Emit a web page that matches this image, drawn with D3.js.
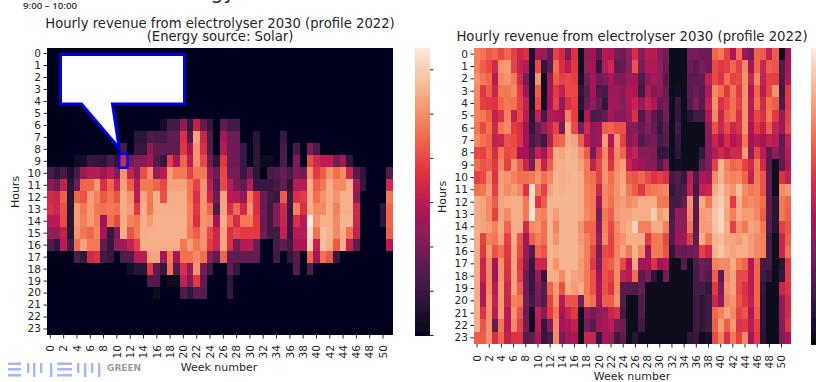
<!DOCTYPE html>
<html>
<head>
<meta charset="UTF-8">
<title>Hourly revenue from electrolyser</title>
<script src="https://d3js.org/d3.v7.min.js"></script>
<style>
  html, body { margin: 0; padding: 0; background: #fff; overflow: hidden; }
  text { font-family: "DejaVu Sans", sans-serif; fill: #262626; }
  .domain { display: none; }
  .tick line { stroke: #262626; }
</style>
</head>
<body>
<svg id="chart" width="816" height="382"></svg>
<script>
// revenue per hour (rows) and week (columns), relative to the colorbar (0-100)
var weeks = [0,1,2,3,4,5,6,7,8,9,10,11,12,13,14,15,16,17,18,19,20,21,22,23,24,25,26,27,28,29,30,31,32,33,34,35,36,37,38,39,40,41,42,43,44,45,46,47,48,49,50,51];
var hours = [0,1,2,3,4,5,6,7,8,9,10,11,12,13,14,15,16,17,18,19,20,21,22,23];
var weekTicks = [0,2,4,6,8,10,12,14,16,18,20,22,24,26,28,30,32,34,36,38,40,42,44,46,48,50];
var colorbarTicks = [0,15.4,30.8,46.2,61.6,77,92.4];

var solar = [
[0,0,0,0,0,0,0,0,0,0,0,0,0,0,0,0,0,0,0,0,0,0,0,0,0,0,0,0,0,0,0,0,0,0,0,0,0,0,0,0,0,0,0,0,0,0,0,0,0,0,0,0],
[0,0,0,0,0,0,0,0,0,0,0,0,0,0,0,0,0,0,0,0,0,0,0,0,0,0,0,0,0,0,0,0,0,0,0,0,0,0,0,0,0,0,0,0,0,0,0,0,0,0,0,0],
[0,0,0,0,0,0,0,0,0,0,0,0,0,0,0,0,0,0,0,0,0,0,0,0,0,0,0,0,0,0,0,0,0,0,0,0,0,0,0,0,0,0,0,0,0,0,0,0,0,0,0,0],
[0,0,0,0,0,0,0,0,0,0,0,0,0,0,0,0,0,0,0,0,0,0,0,0,0,0,0,0,0,0,0,0,0,0,0,0,0,0,0,0,0,0,0,0,0,0,0,0,0,0,0,0],
[0,0,0,0,0,0,0,0,0,0,0,0,0,0,0,0,0,0,0,0,0,0,0,0,0,0,0,0,0,0,0,0,0,0,0,0,0,0,0,0,0,0,0,0,0,0,0,0,0,0,0,0],
[0,0,0,0,0,0,0,0,0,0,0,0,0,0,0,0,0,0,0,0,0,0,0,0,0,0,0,0,0,0,0,0,0,0,0,0,0,0,0,0,0,0,0,0,0,0,0,0,0,0,0,0],
[0,0,0,0,0,0,0,0,0,0,0,0,0,0,0,0,0,6,18,18,36,14,48,25,15,0,25,18,18,0,0,0,0,0,0,0,0,0,0,0,0,0,0,0,0,0,0,0,0,0,0,0],
[0,0,0,0,0,0,0,0,0,0,0,0,0,12,12,20,18,18,25,25,55,22,82,50,20,0,42,28,28,0,0,10,0,0,0,15,0,0,0,0,0,0,0,0,0,0,0,0,0,0,0,0],
[0,0,0,0,0,0,0,0,0,0,0,18,0,15,15,35,25,25,25,25,58,40,78,55,22,0,45,28,28,15,0,12,0,0,0,18,0,18,0,30,20,0,0,0,0,0,0,0,0,0,0,0],
[0,0,0,0,3,5,15,12,12,20,12,52,28,33,33,42,22,15,60,42,68,47,78,62,28,12,58,28,28,15,0,12,3,3,0,20,0,32,0,63,52,47,47,30,42,12,0,0,0,0,0,0],
[18,12,18,8,18,38,46,46,40,47,32,78,48,35,63,76,38,46,80,72,72,60,72,72,38,28,62,30,30,15,28,12,0,18,20,26,18,32,28,78,58,66,78,70,76,50,22,12,0,0,0,20],
[35,28,48,10,28,68,68,80,55,68,50,82,66,45,72,72,68,62,82,82,82,72,60,78,46,22,62,45,30,25,45,15,15,15,17,25,12,45,45,84,66,72,84,76,76,84,42,14,0,0,0,52],
[52,50,66,10,68,64,80,74,65,70,64,84,78,46,82,72,84,63,84,84,84,72,55,78,50,28,82,47,46,35,72,55,28,18,15,66,16,55,58,84,70,78,84,78,85,85,35,0,0,0,0,72],
[55,50,63,10,80,72,80,72,70,72,70,84,80,58,84,72,84,84,84,84,84,74,58,78,68,20,82,55,68,52,78,55,28,16,33,50,15,74,55,85,76,76,84,74,85,85,52,0,0,0,12,68],
[46,46,62,10,80,74,80,74,40,70,62,84,74,72,84,80,85,85,85,85,85,74,55,78,76,40,84,68,52,72,72,58,28,16,33,50,15,55,45,100,78,85,85,76,86,86,50,0,0,0,12,68],
[36,36,48,10,78,72,68,76,42,14,32,84,64,72,84,85,85,85,85,85,85,72,66,78,62,50,82,55,60,58,58,58,28,16,16,48,15,45,45,96,70,88,86,76,85,70,48,0,0,0,0,66],
[22,14,46,16,70,82,72,72,25,14,38,38,48,60,84,84,84,84,84,84,72,80,72,78,58,50,82,55,30,45,45,28,0,0,18,25,16,42,42,92,48,88,84,65,84,48,25,0,0,0,0,45],
[0,0,0,0,20,14,52,56,16,14,0,20,20,45,45,82,82,40,72,40,70,70,76,70,35,25,68,25,25,25,25,25,0,0,16,0,12,22,0,68,40,70,64,14,0,0,0,0,0,0,0,0],
[0,0,0,0,0,0,0,0,0,0,0,0,6,10,10,58,24,14,70,22,55,38,78,30,16,0,0,25,14,0,0,0,0,0,0,0,0,22,0,22,0,0,0,0,0,0,0,0,0,0,0,0],
[0,0,0,0,0,0,0,0,0,0,0,0,0,0,0,22,22,0,2,2,48,32,58,25,0,0,0,12,0,0,0,0,0,0,0,0,0,0,0,0,0,0,0,0,0,0,0,0,0,0,0,0],
[0,0,0,0,0,0,0,0,0,0,0,0,0,0,0,0,4,0,0,0,20,12,24,22,0,0,0,14,0,0,0,0,0,0,0,0,0,0,0,0,0,0,0,0,0,0,0,0,0,0,0,0],
[0,0,0,0,0,0,0,0,0,0,0,0,0,0,0,0,0,0,0,0,0,0,0,0,0,0,0,0,0,0,0,0,0,0,0,0,0,0,0,0,0,0,0,0,0,0,0,0,0,0,0,0],
[0,0,0,0,0,0,0,0,0,0,0,0,0,0,0,0,0,0,0,0,0,0,0,0,0,0,0,0,0,0,0,0,0,0,0,0,0,0,0,0,0,0,0,0,0,0,0,0,0,0,0,0],
[0,0,0,0,0,0,0,0,0,0,0,0,0,0,0,0,0,0,0,0,0,0,0,0,0,0,0,0,0,0,0,0,0,0,0,0,0,0,0,0,0,0,0,0,0,0,0,0,0,0,0,0]
];

var profile = [
[74,70,65,68,62,68,60,50,55,8,42,38,25,60,52,32,56,2,36,40,22,46,44,30,28,36,55,34,46,46,34,28,2,2,2,30,30,28,28,68,72,60,44,70,40,30,68,66,48,66,4,40],
[74,66,62,52,78,80,60,48,45,8,62,14,25,70,55,47,58,3,38,40,14,46,52,25,26,36,64,30,44,44,36,26,2,2,2,28,24,30,28,62,58,60,68,60,76,42,68,50,66,64,20,42],
[78,72,68,45,76,78,72,52,30,8,78,4,38,66,60,62,60,8,30,40,28,32,42,32,32,38,42,20,34,42,36,22,2,2,2,24,24,26,48,62,56,70,60,62,78,50,76,48,60,60,20,44],
[76,58,66,50,72,72,76,58,40,8,66,3,42,58,48,62,62,12,24,42,20,18,40,38,34,44,44,16,44,32,36,26,3,6,3,24,28,24,44,76,70,58,72,58,78,44,68,46,62,78,16,58],
[74,60,58,56,68,72,70,60,48,8,62,6,40,60,36,56,60,10,28,36,26,14,42,38,34,44,50,36,48,44,26,30,3,14,3,22,32,22,48,78,56,62,70,60,78,46,70,52,70,66,20,58],
[74,72,66,48,56,74,48,62,46,10,48,18,46,44,40,74,60,4,44,20,22,26,42,34,34,42,56,20,36,24,16,30,3,14,4,10,16,16,44,76,50,66,70,54,78,46,62,56,72,58,36,60],
[72,62,70,52,72,76,58,54,40,14,28,38,48,60,30,84,62,30,52,36,40,66,68,64,64,34,34,26,34,26,14,24,4,16,4,2,2,2,36,64,50,62,50,56,78,42,58,48,66,48,40,62],
[76,70,68,48,50,64,62,56,42,18,26,16,46,66,68,84,82,66,46,36,42,80,44,78,60,34,40,22,28,30,18,22,4,14,4,2,2,2,34,50,40,54,44,48,72,40,46,42,48,46,24,48],
[62,60,68,54,72,62,64,42,40,26,48,40,60,84,82,86,85,78,66,30,56,76,52,76,68,46,48,34,34,32,14,14,4,12,2,2,2,14,34,46,52,46,52,52,80,36,62,46,24,36,26,46],
[70,64,66,58,76,60,78,66,50,30,72,48,66,84,85,86,86,82,72,48,62,78,56,76,80,48,42,40,34,34,20,34,4,6,4,2,4,24,32,60,86,74,68,70,60,52,72,52,22,2,24,44],
[60,62,76,56,80,78,74,70,70,72,78,70,76,86,84,85,86,84,72,70,60,78,70,78,82,66,64,68,62,56,60,56,18,22,14,46,20,44,40,76,86,76,74,76,68,48,72,64,24,2,56,48],
[70,72,80,60,82,76,80,76,56,96,70,60,82,86,85,86,86,84,74,72,50,76,72,78,84,72,66,58,70,72,74,76,14,18,20,48,16,48,50,84,90,82,78,88,76,72,74,64,24,2,76,80],
[84,82,76,66,82,84,84,84,72,96,56,66,86,86,86,86,86,84,74,72,40,76,70,78,80,76,78,84,84,84,72,72,18,18,26,78,24,84,72,88,92,84,58,84,74,76,74,70,24,10,72,68],
[84,82,76,60,82,76,84,84,72,98,76,74,86,80,86,86,86,84,76,72,30,72,66,80,82,82,84,84,84,92,80,84,18,36,36,76,22,80,82,90,94,82,74,84,80,80,76,66,24,10,72,66],
[84,82,80,74,84,68,84,84,52,76,78,70,86,74,86,86,86,78,68,68,34,74,62,76,82,84,94,74,74,84,84,74,20,36,36,72,24,80,80,90,94,84,60,78,72,82,80,72,22,10,60,64],
[84,60,74,72,82,60,84,64,40,66,74,70,86,78,86,86,86,80,74,68,38,76,60,74,78,84,84,84,58,72,72,62,20,40,38,60,24,84,72,86,88,82,82,80,84,80,76,74,18,4,50,66],
[84,58,80,64,70,58,82,62,38,22,68,64,86,84,86,86,86,82,74,62,30,62,60,74,82,72,86,76,40,72,72,64,14,28,26,28,30,60,52,86,90,84,82,84,84,80,76,74,18,2,50,70],
[84,50,76,40,78,56,82,58,34,14,50,50,86,78,86,86,86,80,74,58,34,64,66,76,62,44,82,40,40,56,40,44,2,2,22,2,20,28,26,74,76,76,84,72,68,44,68,18,18,2,10,58],
[84,50,76,40,78,54,82,60,28,14,40,14,84,84,76,86,82,80,72,64,40,64,60,76,48,46,70,24,32,12,2,30,2,2,2,2,18,28,22,66,24,76,82,62,62,46,68,16,14,2,14,58],
[84,44,76,46,80,50,82,66,28,14,32,22,68,80,64,84,80,84,72,64,44,64,56,76,22,22,20,26,2,2,2,2,2,2,2,2,18,18,14,58,30,78,82,62,56,46,68,14,2,2,50,56],
[84,44,78,48,80,50,74,72,30,18,30,22,60,78,46,64,64,30,74,70,42,66,66,78,22,2,2,20,2,2,2,2,2,2,2,2,16,12,16,50,36,76,78,64,58,48,68,12,2,2,36,52],
[84,56,78,46,80,46,78,64,28,6,48,34,58,72,42,50,58,4,36,30,36,38,50,54,18,2,2,20,2,2,2,2,2,2,2,2,16,12,16,68,74,82,76,60,64,44,66,12,2,2,36,52],
[84,64,78,26,72,46,76,60,30,4,46,14,34,76,40,44,48,2,30,22,40,42,46,30,28,2,2,16,2,2,2,2,2,2,2,2,16,12,16,66,80,66,80,56,58,46,60,12,2,2,34,56],
[66,66,78,54,68,48,56,56,22,24,42,14,18,76,30,42,44,2,50,50,14,42,38,16,24,2,10,4,2,2,2,2,2,2,2,12,14,4,8,62,74,54,72,60,76,40,58,10,2,2,32,42]
];

var rocketStops = [0,14.3,28.6,42.9,57.1,71.4,85.7,100];
var rocketColors = ["#03051a","#35193e","#701f57","#ad1759","#e13342","#f37651","#f6b48f","#faebdd"];
var logoBars = [27,33,40,50,77,84,91,98];

var color = d3.scaleLinear().domain(rocketStops).range(rocketColors);
var svg = d3.select("#chart");

var defs = svg.append("defs");
defs.append("filter").attr("id", "blurLeft").append("feGaussianBlur").attr("stdDeviation", 0.35);
defs.append("filter").attr("id", "blurRight").append("feGaussianBlur").attr("stdDeviation", 0.7);

// draw one heatmap with its axes and colorbar
function heatmap(rows, box, barBox, blur, showBarTicks) {
  var x = d3.scaleBand().domain(weeks).range([box.x0, box.x1]);
  var y = d3.scaleBand().domain(hours).range([box.y0, box.y1]);
  var g = svg.append("g");

  var cells = g.append("g").attr("filter", "url(#" + blur + ")");
  rows.forEach(function(row, h) {
    cells.selectAll(null)
      .data(row)
      .enter()
      .append("rect")
        .attr("x", function(d, i) { return x(i); })
        .attr("y", y(h))
        .attr("width", function(d, i) { return i == 51 ? x.bandwidth() : x.bandwidth() + 1; })
        .attr("height", h == 23 ? y.bandwidth() : y.bandwidth() + 1)
        .attr("shape-rendering", "crispEdges")
        .attr("fill", function(d) { return color(d); });
  });

  var axisY = g.append("g")
    .attr("transform", "translate(" + box.x0 + ",0)")
    .call(d3.axisLeft(y).tickSize(3.5).tickPadding(2.5));
  axisY.selectAll("text").style("font-size", "10.6px");

  var axisX = g.append("g")
    .attr("transform", "translate(0," + box.y1 + ")")
    .call(d3.axisBottom(x).tickValues(weekTicks).tickSize(3.5));
  axisX.selectAll("text")
    .style("font-size", "10.6px")
    .style("text-anchor", "end")
    .attr("x", 0)
    .attr("y", 0)
    .attr("dy", "0.35em")
    .attr("transform", "translate(0," + box.labelGap + ") rotate(-90)");

  // colorbar
  var barY = d3.scaleLinear().domain([0, 100]).range([barBox.y1, barBox.y0]);
  var steps = d3.range(0, 100, 0.5);
  g.append("g").attr("filter", "url(#" + blur + ")").selectAll("rect")
    .data(steps)
    .enter()
    .append("rect")
      .attr("x", barBox.x0)
      .attr("y", function(d) { return barY(d + 0.5); })
      .attr("width", barBox.x1 - barBox.x0)
      .attr("height", function(d) { return barY(d) - barY(d + 0.5) + 1; })
      .attr("shape-rendering", "crispEdges")
      .attr("fill", function(d) { return color(d); });
  if (showBarTicks) {
    g.append("g")
      .attr("transform", "translate(" + barBox.x1 + ",0)")
      .call(d3.axisRight(barY).tickValues(colorbarTicks).tickSize(3.5).tickFormat(""));
  }
  return { g: g, x: x, y: y };
}

var left = heatmap(solar, { x0: 47, x1: 393, y0: 47.5, y1: 335, labelGap: 10 }, { x0: 415, x1: 430, y0: 47.5, y1: 335 }, "blurLeft", true);
var right = heatmap(profile, { x0: 474, x1: 790.7, y0: 48, y1: 344, labelGap: 11 }, { x0: 811, x1: 816, y0: 48, y1: 344 }, "blurRight", false);

function label(txt, px, py, size, rot) {
  var t = svg.append("text")
    .attr("text-anchor", "middle")
    .style("font-size", size + "px")
    .text(txt);
  if (rot) t.attr("transform", "translate(" + px + "," + py + ") rotate(-90)");
  else t.attr("x", px).attr("y", py);
  return t;
}

// titles and axis labels
var title = svg.append("text").attr("text-anchor", "middle").style("font-size", "13.2px");
title.append("tspan").attr("x", 220).attr("y", 28).text("Hourly revenue from electrolyser 2030 (profile 2022)");
title.append("tspan").attr("x", 220).attr("y", 41).text("(Energy source: Solar)");
label("Week number", 219, 371, 11);
label("Hours", 19, 192, 11, true);
label("Hourly revenue from electrolyser 2030 (profile 2022)", 632, 41, 13.25);
label("Week number", 632, 380, 11);
label("Hours", 446, 197, 11, true);

// cut off heading above the chart
svg.append("text").attr("x", 235).attr("y", -1).attr("text-anchor", "end").style("font-size", "20px").text("Energy");
svg.append("text").attr("x", 23).attr("y", 8.5)
  .style("font-family", "'Open Sans', sans-serif").style("font-size", "9.7px").style("font-weight", "600").style("fill", "#333")
  .text("9:00 – 10:00");

// callout pointing at the selected cell
var cellX = left.x(11), cellY = left.y(9), cellW = left.x.bandwidth(), cellH = left.y.bandwidth();
svg.append("path")
  .attr("d", "M60.5,54.5H184.5V104H112.5L" + (cellX - 1) + "," + (cellY - 7) + "L81.5,104H60.5Z")
  .attr("fill", "#fff")
  .attr("stroke", "#0000e6")
  .attr("stroke-width", 3);
svg.append("rect")
  .attr("x", cellX - 1)
  .attr("y", cellY - 1.5)
  .attr("width", cellW + 1.5)
  .attr("height", cellH + 2)
  .attr("fill", "none")
  .attr("stroke", "#0000e6")
  .attr("stroke-width", 2.5);

// logo
var logo = svg.append("g").attr("filter", "url(#blurLeft)");
[363.5, 369, 375].forEach(function(py) {
  logo.append("rect").attr("x", 8).attr("y", py - 1).attr("width", 13).attr("height", 2.5).attr("fill", "#a3b8fb");
  logo.append("rect").attr("x", 57).attr("y", py - 1).attr("width", 15).attr("height", 2.5).attr("fill", "#a3b8fb");
});
logo.selectAll(null)
  .data(logoBars)
  .enter()
  .append("rect")
    .attr("x", function(d) { return d; })
    .attr("y", 363)
    .attr("width", 2.4)
    .attr("height", function(d, i) { return i % 2 ? 14 : 10; })
    .attr("fill", "#a3b8fb");
svg.append("text").attr("x", 107).attr("y", 370.5).style("font-size", "9px").style("font-weight", "bold").style("fill", "#9a9ca3").text("GREEN");
</script>
</body>
</html>
